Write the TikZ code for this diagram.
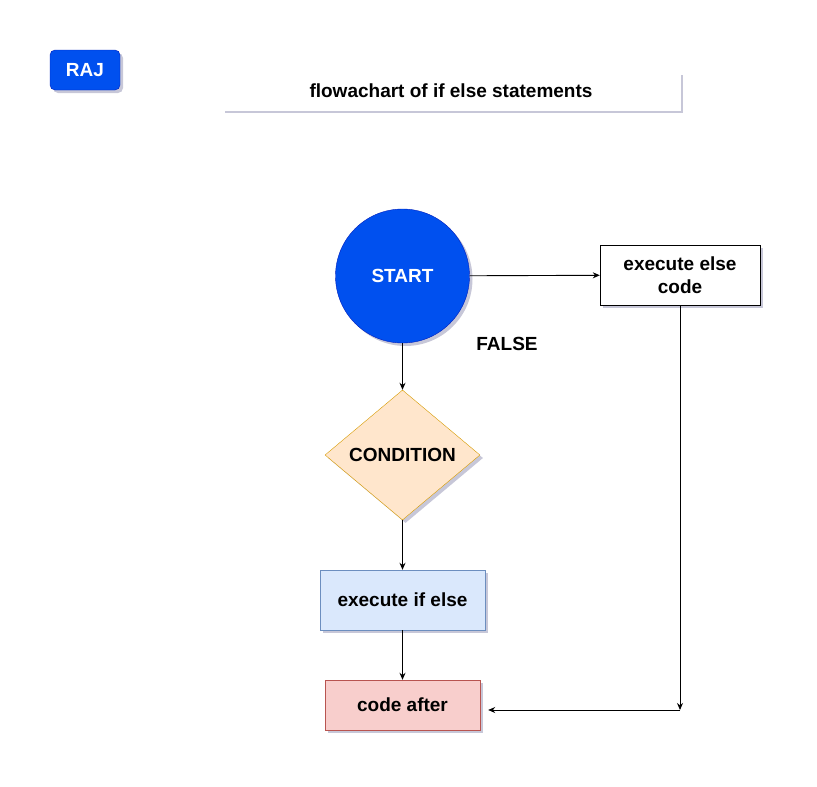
\documentclass[tikz,border=0pt]{standalone}
\usepackage{fontspec}
\setmainfont{Liberation Sans}
\usetikzlibrary{arrows.meta,shapes.geometric,shadows}

\definecolor{rajblue}{HTML}{0050EF}
\definecolor{rajline}{HTML}{001DBC}
\definecolor{condfill}{HTML}{FFE6CC}
\definecolor{condline}{HTML}{D79B00}
\definecolor{iffill}{HTML}{DAE8FC}
\definecolor{ifline}{HTML}{6C8EBF}
\definecolor{afterfill}{HTML}{F8CECC}
\definecolor{afterline}{HTML}{B85450}

\tikzstyle{shade}=[drop shadow={shadow xshift=3pt, shadow yshift=-3pt, opacity=0.22, fill=black!70!blue}]
\tikzstyle{label text}=[font=\fontsize{19}{23}\selectfont\bfseries]
\tikzstyle{box}=[rectangle, draw, shade, label text, inner sep=0pt, align=center]
\tikzstyle{flow}=[-{Stealth[length=7pt,width=6pt]}, line width=0.9pt]

\begin{document}
\begin{tikzpicture}[x=1pt, y=-1pt]
\useasboundingbox (0, 0) rectangle (817, 787);

\node[box, rounded corners=5pt, fill=rajblue, draw=rajline, text=white, minimum width=70pt, minimum height=40pt](raj) at (85, 70) {RAJ};
\node[box, fill=white, draw=white, minimum width=458pt, minimum height=38pt](title) at (451, 91) {flowachart of if else statements};

\node[circle, draw=rajline, fill=rajblue, shade, label text, text=white, minimum size=134pt, inner sep=0pt](start) at (402.5, 276) {START};
\node[box, fill=white, minimum width=160pt, minimum height=60pt](else) at (680, 275) {execute else\\code};
\node[label text](false) at (507, 344) {FALSE};

\node[diamond, draw=condline, fill=condfill, shade, label text, minimum width=155pt, minimum height=130pt, inner sep=0pt](cond) at (402.5, 455) {CONDITION};
\node[box, fill=iffill, draw=ifline, minimum width=165pt, minimum height=60pt](ifcode) at (402.5, 600) {execute if else};
\node[box, fill=afterfill, draw=afterline, minimum width=155pt, minimum height=50pt](after) at (402.5, 705) {code after};

\coordinate (corner) at (680, 710);

\begin{scope}[every path/.style={flow}]
       \draw (start) -- (else);
       \draw (start) -- (cond);
       \draw (cond) -- (ifcode);
       \draw (ifcode) -- (after);
       \draw (else) -- (corner);
       \draw[shorten >=8pt] (corner) -- (after.east |- corner);
\end{scope}
\end{tikzpicture}
\end{document}
